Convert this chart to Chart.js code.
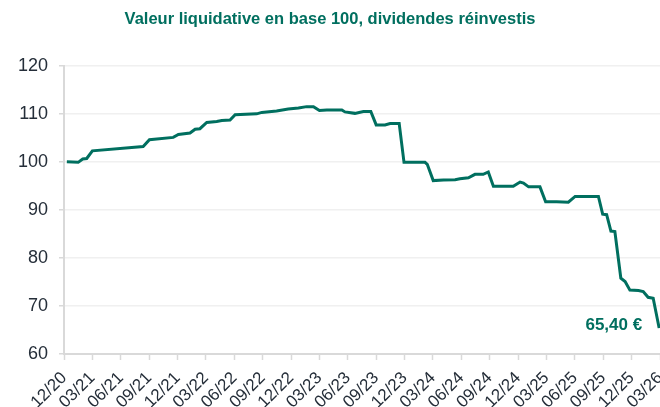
<!DOCTYPE html>
<html>
<head>
<meta charset="utf-8">
<script src="https://cdn.jsdelivr.net/npm/chart.js@4/dist/chart.umd.min.js"></script>
<style>
  html, body { margin: 0; padding: 0; background: #ffffff; }
  #wrap { width: 660px; height: 407px; position: relative; }
</style>
</head>
<body>
<div id="wrap"><canvas id="c"></canvas></div>
<script>
// Quarter tick labels (x axis), one per quarter from 12/20 to 03/26
const quarterLabels = ['12/20','03/21','06/21','09/21','12/21','03/22','06/22','09/22','12/22','03/23','06/23','09/23','12/23','03/24','06/24','09/24','12/24','03/25','06/25','09/25','12/25','03/26'];

// Time position of each reading, in quarters elapsed since 12/20
const quartersSinceStart = [0.1, 0.50, 0.66, 0.80, 1.00, 2.79, 3.01, 3.85, 4.03, 4.44, 4.62, 4.79, 5.03, 5.38, 5.56, 5.85, 6.03, 6.79, 6.97, 7.49, 7.90, 8.26, 8.55, 8.79, 9.00, 9.26, 9.79, 9.90, 10.25, 10.55, 10.81, 11.00, 11.31, 11.49, 11.81, 11.98, 12.72, 12.80, 13.01, 13.37, 13.78, 13.95, 14.25, 14.48, 14.77, 14.95, 15.13, 15.83, 16.07, 16.19, 16.37, 16.77, 16.97, 17.36, 17.77, 18.01, 18.83, 18.98, 19.12, 19.27, 19.41, 19.62, 19.77, 19.94, 20.24, 20.41, 20.58, 20.76, 20.97];

// Net asset value, base 100, dividends reinvested
const navBase100 = [100.0, 99.9, 100.6, 100.7, 102.3, 103.2, 104.6, 105.1, 105.7, 106.0, 106.8, 106.9, 108.2, 108.4, 108.6, 108.7, 109.8, 110.0, 110.3, 110.6, 111.0, 111.2, 111.5, 111.5, 110.7, 110.8, 110.8, 110.4, 110.1, 110.5, 110.5, 107.7, 107.7, 108.0, 108.0, 99.9, 99.9, 99.5, 96.1, 96.2, 96.3, 96.5, 96.7, 97.4, 97.4, 97.9, 94.9, 94.9, 95.8, 95.6, 94.8, 94.8, 91.7, 91.7, 91.6, 92.8, 92.8, 89.1, 89.0, 85.6, 85.5, 75.8, 75.1, 73.3, 73.2, 73.0, 71.8, 71.6, 65.4];

const yTicks = [60, 70, 80, 90, 100, 110, 120];
const lastValueLabel = '65,40 €';
const titleText = 'Valeur liquidative en base 100, dividendes réinvestis';

const GREEN = '#006f5f';
const AXIS = '#d9d9d9';
const TXT = '#252e39';

const points = quartersSinceStart.map((q, i) => ({ x: q, y: navBase100[i] }));

const lastLabelPlugin = {
  id: 'lastLabel',
  afterDatasetsDraw(chart) {
    const meta = chart.getDatasetMeta(0);
    const last = meta.data[meta.data.length - 1];
    const ctx = chart.ctx;
    ctx.save();
    ctx.font = 'bold 17px "Liberation Sans", Arial, sans-serif';
    ctx.fillStyle = GREEN;
    ctx.textAlign = 'right';
    ctx.textBaseline = 'alphabetic';
    ctx.fillText(lastValueLabel, last.x - 17, last.y + 2);
    ctx.restore();
  }
};

new Chart(document.getElementById('c'), {
  type: 'line',
  data: {
    datasets: [{
      data: points,
      borderColor: GREEN,
      borderWidth: 3,
      pointRadius: 0,
      tension: 0,
      fill: false
    }]
  },
  options: {
    responsive: true,
    maintainAspectRatio: false,
    animation: false,
    layout: { padding: { left: 0, right: 0, top: 0, bottom: 0 } },
    plugins: {
      legend: { display: false },
      tooltip: { enabled: false },
      title: {
        display: true,
        text: titleText,
        color: GREEN,
        font: { family: '"Liberation Sans", Arial, sans-serif', size: 16.5, weight: 'bold' },
        padding: { top: 10, bottom: 36 }
      }
    },
    scales: {
      x: {
        type: 'linear',
        min: 0,
        max: quarterLabels.length - 1,
        afterFit(scale) {
          scale.height = 53;
          scale.paddingRight = 0;
          scale.paddingLeft = 0;
        },
        afterBuildTicks(scale) {
          scale.ticks = quarterLabels.map((_, i) => ({ value: i }));
        },
        ticks: {
          autoSkip: false,
          maxRotation: 45,
          minRotation: 45,
          padding: 8,
          color: TXT,
          font: { family: '"Liberation Sans", Arial, sans-serif', size: 17 },
          callback: (v) => quarterLabels[v]
        },
        grid: {
          drawOnChartArea: false,
          drawTicks: true,
          tickLength: 6,
          tickColor: AXIS,
          tickWidth: 1.5
        },
        border: { display: true, color: AXIS, width: 2 }
      },
      y: {
        min: 60,
        max: 120,
        afterFit(scale) { scale.width = 64; },
        afterBuildTicks(scale) {
          scale.ticks = yTicks.map(v => ({ value: v }));
        },
        ticks: {
          padding: 11,
          color: TXT,
          font: { family: '"Liberation Sans", Arial, sans-serif', size: 18 }
        },
        grid: {
          color: '#f0f0f0',
          lineWidth: 1.5,
          drawTicks: true,
          tickLength: 5,
          tickColor: AXIS
        },
        border: { display: true, color: AXIS, width: 2 }
      }
    }
  },
  plugins: [lastLabelPlugin]
});
</script>
</body>
</html>
